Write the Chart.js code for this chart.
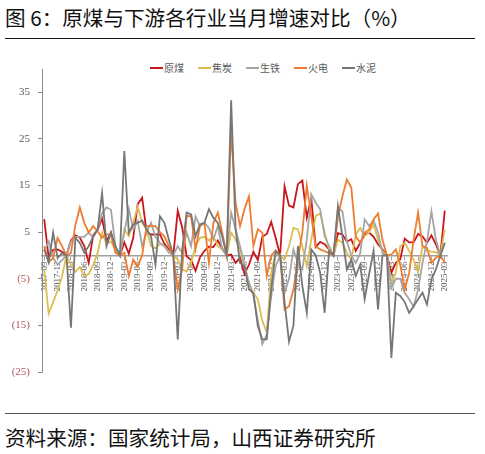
<!DOCTYPE html>
<html>
<head>
<meta charset="utf-8">
<script src="https://cdn.jsdelivr.net/npm/chart.js@4.4.1/dist/chart.umd.min.js"></script>
<style>
  html, body { margin: 0; padding: 0; background: #fff; }
  #page { position: relative; width: 485px; height: 454px; overflow: hidden; font-family: "Noto Sans CJK SC", sans-serif; }
  #title { position: absolute; left: 5px; top: 2px; font-size: 20.6px; color: #111; white-space: nowrap; }
  #rule1 { position: absolute; left: 5px; top: 38px; width: 470px; height: 0; border-top: 1.5px solid #111; }
  #rule2 { position: absolute; left: 5px; top: 413px; width: 470px; height: 0; border-top: 1.5px solid #555; }
  #source { position: absolute; left: 5px; top: 422px; font-size: 20.6px; color: #111; white-space: nowrap; }
  #legend { position: absolute; left: 150px; top: 60px; height: 16px; }
  #legend .item { position: absolute; top: 0; width: 48px; font-size: 10px; line-height: 16px; color: #595959; white-space: nowrap; }
  #legend .item i { display: inline-block; width: 13px; height: 2px; vertical-align: middle; margin-right: 1px; margin-top: -2px; }
  #wrap { position: absolute; left: 0; top: 45px; width: 485px; height: 345px; }
</style>
</head>
<body>
<div id="page">
  <div id="title">图 6：原煤与下游各行业当月增速对比（%）</div>
  <div id="rule1"></div>
  <div id="legend"></div>
  <div id="wrap"><canvas id="growthChart"></canvas></div>
  <div id="rule2"></div>
  <div id="source">资料来源：国家统计局，山西证券研究所</div>
</div>
<script>
// categories: 2017-09 .. 2025-03
var months = [
  '2017-09','2017-10','2017-11','2017-12',
  '2018-01','2018-02','2018-03','2018-04','2018-05','2018-06','2018-07','2018-08','2018-09','2018-10','2018-11','2018-12',
  '2019-01','2019-02','2019-03','2019-04','2019-05','2019-06','2019-07','2019-08','2019-09','2019-10','2019-11','2019-12',
  '2020-01','2020-02','2020-03','2020-04','2020-05','2020-06','2020-07','2020-08','2020-09','2020-10','2020-11','2020-12',
  '2021-01','2021-02','2021-03','2021-04','2021-05','2021-06','2021-07','2021-08','2021-09','2021-10','2021-11','2021-12',
  '2022-01','2022-02','2022-03','2022-04','2022-05','2022-06','2022-07','2022-08','2022-09','2022-10','2022-11','2022-12',
  '2023-01','2023-02','2023-03','2023-04','2023-05','2023-06','2023-07','2023-08','2023-09','2023-10','2023-11','2023-12',
  '2024-01','2024-02','2024-03','2024-04','2024-05','2024-06','2024-07','2024-08','2024-09','2024-10','2024-11','2024-12',
  '2025-01','2025-02','2025-03'
];

// monthly YoY growth, %
var coal = [
  7.8, -0.5, 1.2, 1.3,
  0.8, 0, 3.2, 4.3, 3.8, 2.0, -1.6, 4.3, 5.5, 7.9, 3.0, 4.9,
  1.3, 0, 2.8, 0.4, 3.8, 11.0, 12.4, 5.0, 4.5, 4.5, 4.5, 2.5,
  1.3, 0, 9.6, 6.0, -0.2, -1.0, -3.3, -0.4, 1.0, 1.9, 1.8, 3.2,
  1.5, 0, 0.2, -1.6, -0.5, -4.0, -2.0, 0.8, -1.0, 4.0, 4.6, 7.2,
  3.8, 0, 14.8, 10.7, 10.3, 15.3, 16.1, 8.1, 12.3, 1.8, 2.9, 2.4,
  1.3, 0, 4.8, 4.5, 3.0, 3.5, 1.0, 2.7, 4.5, 4.9, 4.0, 2.4,
  1.3, 0, -3.7, -1.6, -0.8, 3.6, 2.8, 2.8, 4.6, 4.1, 2.7, 4.3,
  2.4, 0, 9.6
];
var coke = [
  -3.0, -12.5, -10.0, -7.5,
  -4.5, 0, -2.0, -3.5, -2.5, -4.4, -4.0, -2.0, 0.6, 4.9, 2.5, 3.0,
  1.3, 0, 5.6, 4.2, 7.0, 10.5, 7.0, 5.6, 2.0, 1.5, 2.5, 2.0,
  0.9, 0, -0.9, -3.0, -3.4, -1.6, 2.0, 3.8, 4.0, 3.2, 4.1, 2.0,
  1.3, 0, 4.9, 3.4, 1.3, -2.3, -5.9, -8.0, -9.4, -14.0, -16.5, -3.7,
  0.6, 0, -0.9, 2.0, 5.9, 5.6, 2.0, -2.3, 3.4, 8.5, 9.0, 5.0,
  1.3, 0, 3.4, 2.7, 0.6, -0.9, 4.5, 5.9, 4.1, 5.0, 6.7, 3.4,
  1.0, 0, -5.9, -3.7, 2.0, 2.7, 1.0, -1.0, -3.5, 2.0, 1.0, 0.8,
  0.7, 0, 5.6
];
var pigIron = [
  1.0, 3.0, -0.5, -2.0,
  -1.0, 0, 3.0, 4.0, 4.0, 4.0, 4.9, 3.8, 5.6, 9.0, 10.3, 9.8,
  2.0, 0, 5.0, 10.0, 5.6, 7.4, 2.0, 4.9, 7.0, 4.0, 2.7, 2.0,
  0.6, 0, 2.0, 0.6, 4.9, 2.0, 8.4, 6.3, 7.0, 5.9, 3.4, 6.3,
  1.3, 0, 9.2, 5.6, 2.0, -2.0, -5.9, -8.7, -14.0, -19.0, -17.0, -8.7,
  -2.3, 0, -8.0, -5.0, 1.3, -1.6, -3.0, 3.4, 13.1, 11.3, 9.9, 4.1,
  2.0, 0, 10.2, 9.5, 3.0, 0, -1.6, 0.5, 7.7, 6.3, 7.5, 5.0,
  0.5, 0, -7.0, -5.0, -5.0, -8.0, -9.4, -11.0, -7.3, -1.6, 3.0, 9.5,
  3.4, 0, 2.7
];
var thermal = [
  2.0, -1.5, -0.5, 3.8,
  2.0, 0, 0.5, 6.5, 10.3, 7.0, 4.9, 6.3, 5.2, 3.8, 4.5, 4.5,
  0.6, 0, 0.6, -4.4, -0.9, -2.3, 0, 6.3, 6.3, 6.3, 5.0, 4.1,
  2.0, 0, -7.3, -3.0, 8.5, 8.4, 1.3, 6.3, 7.0, -1.6, 7.0, 9.2,
  4.9, 0, 27.0, 11.3, 6.3, 9.9, 12.7, 2.0, 5.6, 4.9, -4.4, 0,
  1.0, 0, -11.6, -10.9, -7.3, -1.0, 5.0, 15.0, 8.4, 2.0, 1.3, 0.9,
  0.5, 0, 8.4, 12.7, 16.3, 14.5, 4.1, 2.7, 4.9, 5.6, 7.7, 9.0,
  3.4, 0, 0.2, 1.3, -2.0, -7.3, -3.7, 3.4, 9.2, 2.0, 1.6, -1.6,
  -0.5, 0, -1.5
];
var cement = [
  1.3, -1.5, 4.9, -0.5,
  0.5, 0, -15.5, 3.8, 2.7, 0.6, 2.0, 4.1, 5.6, 13.4, 2.0, 4.9,
  2.0, 0, 22.4, 4.9, 6.7, 7.0, 7.5, 5.6, 4.1, -2.0, 8.4, 7.0,
  3.4, 0, -18.0, 1.3, 9.2, 8.8, 4.1, 6.7, 7.0, 9.9, 8.1, 7.0,
  4.1, 0, 33.3, 5.6, -1.6, -2.3, -7.3, -8.0, -15.2, -18.0, -18.0, -7.3,
  1.0, 0, -10.0, -18.5, -15.0, 2.0, -6.6, -12.3, 1.3, 0, -3.7, -12.3,
  1.0, 0, 10.6, 4.1, -3.0, -0.9, -4.4, -2.0, -9.4, -4.0, 1.0, -11.6,
  0, 0, -22.0, -8.0, -8.7, -10.0, -12.3, -10.9, -9.4, -8.0, -10.5, -5.2,
  -3.0, 0, 2.7
];

var seriesNames = ['原煤', '焦炭', '生铁', '火电', '水泥'];
var seriesData = [coal, coke, pigIron, thermal, cement];
var seriesColors = ['#C8161D', '#DDBE52', '#A6A6A6', '#ED7D31', '#767676'];
var yTicks = [-25, -15, -5, 5, 15, 25, 35];

// Legend in html, sits over the top of the plot like the original
var legend = document.getElementById('legend');
seriesNames.forEach(function(name, i) {
  var item = document.createElement('div');
  item.className = 'item';
  item.style.left = (i * 48) + 'px';
  item.innerHTML = '<i style="background:' + seriesColors[i] + '"></i>' + name;
  legend.appendChild(item);
});

var ctx = document.getElementById('growthChart').getContext('2d');
new Chart(ctx, {
  type: 'line',
  data: {
    labels: months,
    datasets: seriesNames.map(function(name, i) {
      return {
        label: name,
        data: seriesData[i],
        borderColor: seriesColors[i],
        backgroundColor: seriesColors[i],
        borderWidth: 1.8,
        pointRadius: 0,
        tension: 0,
        fill: false,
        order: seriesNames.length - i
      };
    })
  },
  options: {
    responsive: true,
    maintainAspectRatio: false,
    animation: false,
    layout: { padding: { top: 24, bottom: 18, left: 0, right: 38 } },
    plugins: {
      legend: { display: false },
      tooltip: { enabled: false }
    },
    scales: {
      x: {
        type: 'category',
        offset: true,
        position: { y: 0 },
        border: { display: true, color: '#A0A0A0', width: 1.5 },
        grid: {
          display: true,
          drawOnChartArea: false,
          drawTicks: true,
          tickLength: 4,
          offset: false,
          color: function(c) { return c.index % 3 === 0 ? '#A0A0A0' : 'rgba(0,0,0,0)'; }
        },
        ticks: {
          autoSkip: false,
          minRotation: 90,
          maxRotation: 90,
          padding: 2,
          color: '#595959',
          font: { family: 'Liberation Serif', size: 9 },
          callback: function(value, index) {
            return index % 3 === 0 ? this.getLabelForValue(value) : '';
          }
        }
      },
      y: {
        min: -25,
        max: 40,
        border: { display: true, color: '#8C8C8C', width: 1 },
        grid: { display: true, drawOnChartArea: false, drawTicks: true, tickLength: 4, color: '#8C8C8C' },
        afterBuildTicks: function(scale) {
          scale.ticks = yTicks.map(function(v) { return { value: v }; });
        },
        afterFit: function(scale) { scale.width = 42; },
        ticks: {
          padding: 8,
          font: { family: 'Liberation Serif', size: 11 },
          color: function(c) { return c.tick && c.tick.value < 0 ? '#B4555A' : '#595959'; },
          callback: function(v) { return v < 0 ? '(' + (-v) + ')' : String(v); }
        }
      }
    }
  }
});
</script>
</body>
</html>
